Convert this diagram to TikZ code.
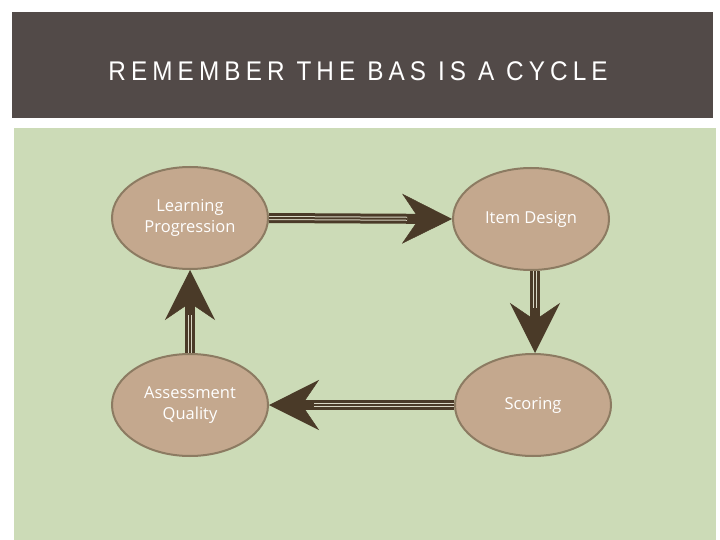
\documentclass[tikz,border=0pt]{standalone}
\usepackage{fontspec}
\setmainfont{Liberation Sans}
\newfontfamily\titlefont[FakeStretch=0.9,LetterSpace=19]{Liberation Sans}
\newfontfamily\bodyfont{Open Sans}
\usetikzlibrary{arrows.meta,shapes.geometric}
\definecolor{hdr}{HTML}{524A48}
\definecolor{bggreen}{HTML}{CCDBB7}
\definecolor{ellfill}{HTML}{C4A88E}
\definecolor{elldraw}{HTML}{8C7B62}
\definecolor{arrdark}{HTML}{4A3A28}
\definecolor{arrlight}{HTML}{D8D6C4}
\tikzset{
  oval/.style={ellipse, fill=ellfill, draw=elldraw, line width=2pt,
    minimum width=156pt, minimum height=102pt, inner sep=0pt,
    text=white, align=center, font=\bodyfont\fontsize{16.5}{21}\selectfont},
  bigarrow/.style={draw=arrdark, line width=10pt,
    -{Stealth[length=50pt,width=50pt,inset=17pt,line width=0.5pt]}},
  shaftlines/.style={draw=arrlight, line width=1pt, double=arrdark, double distance=2pt}
}
\begin{document}
\begin{tikzpicture}[x=1pt,y=-1pt]
\useasboundingbox (0,0) rectangle (720,540);
\fill[white] (0,0) rectangle (720,540);
\fill[hdr] (12,12) rectangle (713,118);
\fill[bggreen] (14,128) rectangle (716,540);
\node[text=white, font=\titlefont\fontsize{27}{30}\selectfont] (title) at (358,71) {REMEMBER THE BAS IS A CYCLE};
\node[oval] (lp) at (190,218) {Learning\\Progression};
\node[oval] (id) at (531,219) {Item Design};
\node[oval] (aq) at (190,405) {Assessment\\Quality};
\node[oval] (sc) at (533,405) {Scoring};
\draw[bigarrow] (lp.east) -- (id.west);
\draw[shaftlines, shorten >=45pt] (lp.east) -- (id.west);
\draw[bigarrow] (id.south -| sc.north) ++(2,0) coordinate (d1) (d1) -- (sc.north -| d1);
\draw[shaftlines, shorten >=45pt] (d1) -- (sc.north -| d1);
\draw[bigarrow] (sc.west) -- (aq.east);
\draw[shaftlines, shorten >=45pt] (sc.west) -- (aq.east);
\draw[bigarrow] (aq.north) -- (lp.south);
\draw[shaftlines, shorten >=45pt] (aq.north) -- (lp.south);
\end{tikzpicture}
\end{document}
